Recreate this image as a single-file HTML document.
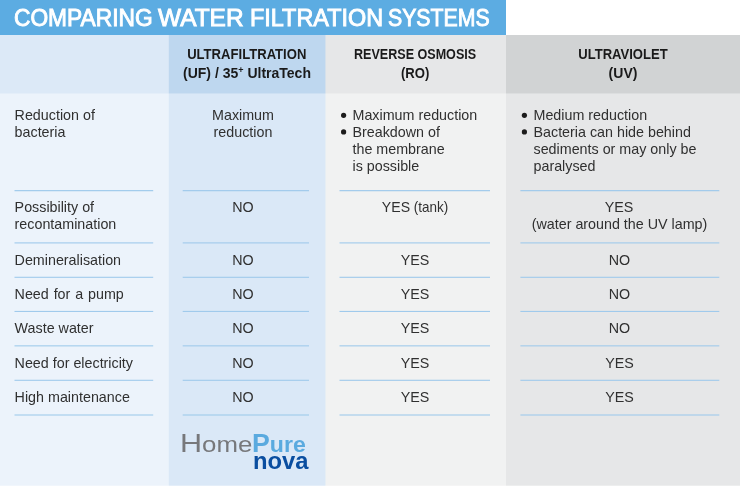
<!DOCTYPE html>
<html lang="en">
<head>
<meta charset="utf-8">
<title>Comparing Water Filtration Systems</title>
<style>
html,body{margin:0;padding:0;background:#fff;}
body{width:740px;height:487px;position:relative;overflow:hidden;font-family:"Liberation Sans",sans-serif;}
.abs{position:absolute;}
#title{left:0;top:0;width:506px;height:35px;}
#title span{position:absolute;top:3px;font-weight:normal;-webkit-text-stroke:0.9px #fff;font-size:23.5px;line-height:30px;color:#fff;white-space:nowrap;transform-origin:0 50%;}
.h{position:absolute;font-weight:bold;font-size:14px;line-height:19px;color:#1a1a1a;white-space:nowrap;text-align:center;}
.h span{display:inline-block;transform-origin:50% 50%;}
.t{position:absolute;font-size:14.3px;line-height:17px;color:#303030;white-space:nowrap;}
.ctr{text-align:center;}
.t.cp{margin-top:-0.7px;font-size:15px;transform:scaleX(0.953);transform-origin:50% 50%;}
.cs{font-size:15px;line-height:0;}
.lg{line-height:30px;white-space:nowrap;transform-origin:0 50%;}
sup{font-size:9px;line-height:0;vertical-align:5.5px;}
</style>
</head>
<body>


<svg id="bgs" class="abs" style="left:0;top:0" width="740" height="487" viewBox="0 0 740 487"><rect x="0" y="0" width="506" height="35" fill="#5cace2"/><g><rect x="0" y="35" width="740" height="59" fill="#dce9f7"/><rect x="168.8" y="35" width="571.2" height="59" fill="#bed7ef"/><rect x="325.45" y="35" width="414.55" height="59" fill="#e6e7e8"/><rect x="506" y="35" width="234" height="59" fill="#d1d3d4"/></g><g><rect x="0" y="94" width="740" height="391" fill="#ecf3fb"/><rect x="168.8" y="94" width="571.2" height="391" fill="#dae8f7"/><rect x="325.45" y="94" width="414.55" height="391" fill="#f1f2f2"/><rect x="506" y="94" width="234" height="391" fill="#e6e7e8"/></g><g opacity="0.55"><rect x="0" y="93" width="740" height="1" fill="#ecf3fb"/><rect x="168.8" y="93" width="571.2" height="1" fill="#dae8f7"/><rect x="325.45" y="93" width="414.55" height="1" fill="#f1f2f2"/><rect x="506" y="93" width="234" height="1" fill="#e6e7e8"/></g><g opacity="0.7"><rect x="0" y="485" width="740" height="1" fill="#ecf3fb"/><rect x="168.8" y="485" width="571.2" height="1" fill="#dae8f7"/><rect x="325.45" y="485" width="414.55" height="1" fill="#f1f2f2"/><rect x="506" y="485" width="234" height="1" fill="#e6e7e8"/></g></svg>

<div id="title" class="abs"><span style="left:14.2px;transform:scaleX(0.968)">COMPARING</span> <span style="left:157.9px;transform:scaleX(1.04)">WATER</span> <span style="left:250.3px;transform:scaleX(0.996)">FILTRATION</span> <span style="left:388.4px;transform:scaleX(0.905)">SYSTEMS</span></div>

<!-- headers -->
<div class="h" id="h1a" style="left:169px;width:156px;top:45px;"><span style="transform:scaleX(0.935)">ULTRAFILTRATION</span></div>
<div class="h" id="h1b" style="left:169px;width:156px;top:64px;"><span>(UF) / 35<sup>+</sup> UltraTech</span></div>
<div class="h" id="h2a" style="left:325px;width:181px;top:45px;"><span style="transform:scaleX(0.897)">REVERSE OSMOSIS</span></div>
<div class="h" id="h2b" style="left:325px;width:181px;top:64px;"><span style="transform:scaleX(0.937)">(RO)</span></div>
<div class="h" id="h3a" style="left:506px;width:234px;top:45px;"><span style="transform:scaleX(0.933)">ULTRAVIOLET</span></div>
<div class="h" id="h3b" style="left:506px;width:234px;top:64px;"><span>(UV)</span></div>

<!-- separator lines -->
<svg id="lines" class="abs" style="left:0;top:0" width="740" height="487" viewBox="0 0 740 487"><g fill="#a0caec"><rect x="14.5" y="190.05" width="138.7" height="1.2"/><rect x="182.7" y="190.05" width="126.3" height="1.2"/><rect x="339.5" y="190.05" width="150.5" height="1.2"/><rect x="520.4" y="190.05" width="198.9" height="1.2"/><rect x="14.5" y="242.35" width="138.7" height="1.1"/><rect x="182.7" y="242.35" width="126.3" height="1.1"/><rect x="339.5" y="242.35" width="150.5" height="1.1"/><rect x="520.4" y="242.35" width="198.9" height="1.1"/><rect x="14.5" y="276.75" width="138.7" height="1.1"/><rect x="182.7" y="276.75" width="126.3" height="1.1"/><rect x="339.5" y="276.75" width="150.5" height="1.1"/><rect x="520.4" y="276.75" width="198.9" height="1.1"/><rect x="14.5" y="310.9" width="138.7" height="1.1"/><rect x="182.7" y="310.9" width="126.3" height="1.1"/><rect x="339.5" y="310.9" width="150.5" height="1.1"/><rect x="520.4" y="310.9" width="198.9" height="1.1"/><rect x="14.5" y="345.3" width="138.7" height="1.1"/><rect x="182.7" y="345.3" width="126.3" height="1.1"/><rect x="339.5" y="345.3" width="150.5" height="1.1"/><rect x="520.4" y="345.3" width="198.9" height="1.1"/><rect x="14.5" y="379.75" width="138.7" height="1.1"/><rect x="182.7" y="379.75" width="126.3" height="1.1"/><rect x="339.5" y="379.75" width="150.5" height="1.1"/><rect x="520.4" y="379.75" width="198.9" height="1.1"/><rect x="14.5" y="414.45" width="138.7" height="1.1"/><rect x="182.7" y="414.45" width="126.3" height="1.1"/><rect x="339.5" y="414.45" width="150.5" height="1.1"/><rect x="520.4" y="414.45" width="198.9" height="1.1"/></g><g fill="#1c1c1c"><circle cx="343.6" cy="115.3" r="2.6"/><circle cx="343.6" cy="131.9" r="2.6"/><circle cx="524.4" cy="115.3" r="2.6"/><circle cx="524.4" cy="131.9" r="2.6"/></g></svg>

<!-- row labels -->
<div class="t" style="left:14.6px;top:107px;">Reduction of<br>bacteria</div>
<div class="t" style="left:14.6px;top:199px;">Possibility of<br>recontamination</div>
<div class="t" style="left:14.6px;top:252px;">Demineralisation</div>
<div class="t" style="left:14.6px;top:286px;word-spacing:0.9px;">Need for a pump</div>
<div class="t" style="left:14.6px;top:320px;">Waste water</div>
<div class="t" style="left:14.6px;top:355px;">Need for electricity</div>
<div class="t" style="left:14.6px;top:389px;">High maintenance</div>

<!-- UF column -->
<div class="t ctr" style="left:169px;width:148px;top:107px;">Maximum<br>reduction</div>
<div class="t ctr cp" style="left:169px;width:148px;top:199px;">NO</div>
<div class="t ctr cp" style="left:169px;width:148px;top:252px;">NO</div>
<div class="t ctr cp" style="left:169px;width:148px;top:286px;">NO</div>
<div class="t ctr cp" style="left:169px;width:148px;top:320px;">NO</div>
<div class="t ctr cp" style="left:169px;width:148px;top:355px;">NO</div>
<div class="t ctr cp" style="left:169px;width:148px;top:389px;">NO</div>

<!-- RO column -->
<div class="t" style="left:352.5px;top:107px;">Maximum reduction<br>Breakdown of<br>the membrane<br>is possible</div>
<div class="t ctr" style="left:340px;width:150px;top:199px;transform:scaleX(0.94);"><span class="cs">YES</span> (tank)</div>
<div class="t ctr cp" style="left:340px;width:150px;top:252px;">YES</div>
<div class="t ctr cp" style="left:340px;width:150px;top:286px;">YES</div>
<div class="t ctr cp" style="left:340px;width:150px;top:320px;">YES</div>
<div class="t ctr cp" style="left:340px;width:150px;top:355px;">YES</div>
<div class="t ctr cp" style="left:340px;width:150px;top:389px;">YES</div>

<!-- UV column -->
<div class="t" style="left:533.5px;top:107px;">Medium reduction<br>Bacteria can hide behind<br>sediments or may only be<br>paralysed</div>
<div class="t ctr" style="left:520px;width:199px;top:199px;"><span class="cs" style="display:inline-block;transform:scaleX(0.953)">YES</span><br>(water around the UV lamp)</div>
<div class="t ctr cp" style="left:520px;width:199px;top:252px;">NO</div>
<div class="t ctr cp" style="left:520px;width:199px;top:286px;">NO</div>
<div class="t ctr cp" style="left:520px;width:199px;top:320px;">NO</div>
<div class="t ctr cp" style="left:520px;width:199px;top:355px;">YES</div>
<div class="t ctr cp" style="left:520px;width:199px;top:389px;">YES</div>

<!-- logo -->
<div class="abs lg" id="lg1" style="left:180.1px;top:428px;font-size:24px;color:#77787b;transform:scaleX(1.195);"><span style="font-size:25.6px">H</span><span style="font-size:21.6px">ome</span></div>
<div class="abs lg" id="lg2" style="left:252.4px;top:428px;font-size:24px;color:#5aaadf;font-weight:bold;transform:scaleX(1.041);"><span style="font-size:25.6px">P</span><span style="font-size:22.2px">ure</span></div>
<div class="abs lg" id="lg3" style="left:252.5px;top:446px;font-size:23px;color:#0a4ea0;font-weight:bold;transform:scaleX(1.033);">nova</div>
</body>
</html>
